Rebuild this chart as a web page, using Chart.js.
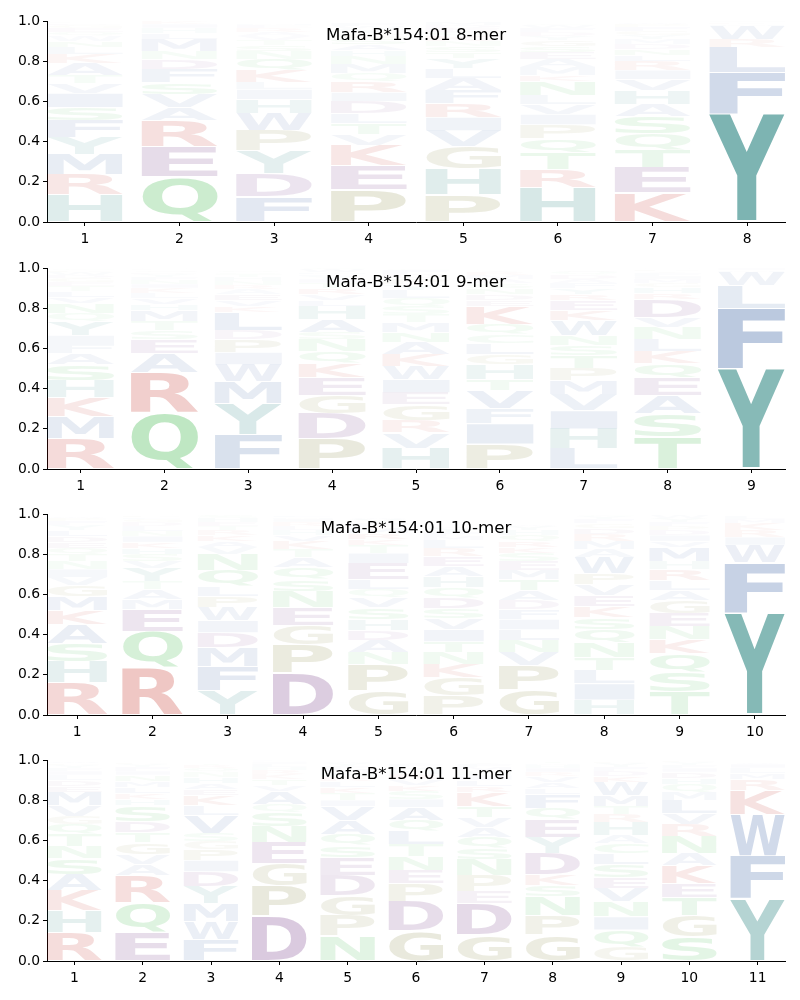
<!DOCTYPE html>
<html><head><meta charset="utf-8">
<script src="https://cdn.jsdelivr.net/npm/chart.js@4.4.1/dist/chart.umd.min.js"></script>
<style>
html,body{margin:0;padding:0;background:#fff;width:800px;height:1000px;overflow:hidden;}
.panel{position:absolute;left:0;width:800px;height:246px;}
</style></head><body>
<div class="panel" style="top:0px"><canvas id="c0" width="800" height="246"></canvas></div>
<div class="panel" style="top:247px"><canvas id="c1" width="800" height="246"></canvas></div>
<div class="panel" style="top:493px"><canvas id="c2" width="800" height="246"></canvas></div>
<div class="panel" style="top:739px"><canvas id="c3" width="800" height="246"></canvas></div>
<script>
// ---- data: each column lists letters bottom -> top with frequency in percent ----
const titles = ["Mafa-B*154:01 8-mer", "Mafa-B*154:01 9-mer", "Mafa-B*154:01 10-mer", "Mafa-B*154:01 11-mer"];
const yTickLabels = ["0.0", "0.2", "0.4", "0.6", "0.8", "1.0"];

const logo8 = [
  "H13.5 R10 M10 Y8.5 F8.5 S6.5 I7 V5 T4 A6 K4.5 L3.5 N3 W2.5 Q2 E2 G1.5 D1 P0.5 C0.5",
  "Q22.5 E15 R13 A6.5 V6.5 S6 F6.5 D5 N4 M6 L3 H2.5 I2 K1.5",
  "F12.5 D11.5 Y11.5 P10 W8.5 H7 I5 L3.5 K6 Q5.5 N4 S3 T2.5 V2 A2 R2 E1.5 M1 G0.5 C0.5",
  "P16 E12 K10 V5.5 T5.5 L5 D6 I4.5 R5.5 Q4 M4.5 N4 H3 A3 S3 G2.5 Y2 W1.5 F1.5 C0.5",
  "P13.5 H13 G11 V8 I6.5 R7 F6.5 A6 L5 Y5 T3 S3 N2.5 K2.5 Q2 E2 D1.5 M1.5 W0.5",
  "H17 R9 T8.5 Q7 P7 I5 V5 L4.5 N7 K3 M4 A4 E3.5 S3 G3 Y2 D2 F2 W1.5 C1",
  "K14.5 E12.5 T9 Q8 S8.5 A6 H7 V5.5 I4.5 R4.5 L3 N3 D2.5 M2.5 Y2 G2 F2 P1.5 W1 C0.5",
  "Y54 F20.5 L12.5 R4 W6.5 M1 K0.8 I0.7"
];
const logo9 = [
  "R15 M11 K9.5 H8.5 S8 A5.5 F4.5 I4.5 Y7 Q4 N5 V3 L3 T2.5 E2 G2 D1.5 W1.5 P1 C1",
  "Q28 R20 A9.5 E7 S4.5 T4.5 M5.5 H3 V3 L2.5 K2.5 I2 N2 F1.5 Y1.5 D1 G1 P0.5 W0.5",
  "F17 Y15.5 M11 W8.5 I6 P6.5 D4.5 L9 K3 V3 E3 A2.5 R2 N2 H2 T1.5 S1 Q1 G0.5",
  "P15 D12.5 G9 E9 K7 Q6 N6 S3.5 A6.5 H6.5 L3 V3 R3 T2.5 I2 Y1.5 F1 M1 W1.5 C1",
  "H10.5 V7.5 R6 G8 E6 I6.5 W6.5 K6 A6 N5 M5 T4 S4 Q4 L4 Y3 P3 D2 F2 C1",
  "P12.5 I10 F7.5 V9 T5.5 H7.5 G5 L5.5 C4.5 Q5 K9 E3 D3 N3 S2.5 A2 M2 R1.5 Y1 W0.5",
  "L10 H10 I9 V8 M7 P6 T6.5 S5 N5 W7.5 K5 E5 R3 Y3 F2.5 A2 D2 Q1.5 G1 C0.5",
  "T16 S11.5 A9 E9 Q7 K6 L6 N6 V5 D9 R3 H3 G2 M2 I1.5 F1.5 Y1 P1 W0.5",
  "Y50 F30 L11.5 W6.5 M1 I1"
];
const logo10 = [
  "R16 H10.5 S9 A9.5 K7 M7 G5.5 V4 I4 N4 T3.5 Q3 E3 D3 L3 Y2.5 F2 P1.5 W1 C0.5",
  "R23.5 Q18 E11 M5 A5 T4 Y6.5 V3.5 S3.5 H3 K3 I3 N2.5 L2.5 D2 G1.5 F1 P1 W0.5",
  "Y12 F12 M9.5 D7.5 I6 W6.5 P5.5 L5 Q8 N8 V3.5 A3 K3 R2.5 T2 E2 H2 S1.5 G0.5",
  "D21 P14 G9.5 E9 N8 S6 Q6 A5 T4 K4 V3 H2.5 L2 R2 I1.5 M1 F1 Y0.5",
  "G12 P13 N6 A6 D5 H5.5 S6 V5 Q4 L5 E8 I5 T4 K3 R3 M3 F2 Y2 W1 C0.5",
  "P9.5 G9 K6.5 N6 T5.5 I6 V5.5 S5 D5.5 Q5 H5.5 A5 E5 R4 L4 M2 F2 Y2 W1 C0.5",
  "G12.5 P12 V6.5 N6 L5.5 I5 F5 D4.5 A5 T5.5 M4.5 E4.5 S4 K3 R3 Q3 H2.5 Y2 W1",
  "H7.5 I8 L6.5 T6.5 N7.5 Q6.5 S6 K5.5 E5.5 V5.5 P5.5 W8 A4 M4 R3.5 D3 G2.5 F2 Y1.5 C1",
  "T11.5 S9.5 Q9.5 K7 N6.5 E6.5 G6.5 A5 L5 R5.5 H4 M7 V3 I3 D2.5 P2 F2 Y2 W1.5",
  "Y51 F25 W8.5 I4 R3.5 K3.5 M2 L1.5"
];
const logo11 = [
  "R14 H11 K10 A8 S8 N6 T6 Q5 G4 V5.5 M6.5 E3 D3 L2.5 I2 F1.5 Y1.5 P1 W1 C0.5",
  "E14.5 Q14.5 R13.5 A5.5 V5 G6 T5 D5.5 S8 H3 K3 L3 M3 N3 I2 F2 Y1.5 P1 W0.5",
  "F10.5 W9 M9 Y8.5 D7.5 I5.5 P5.5 G4 S4 V9 L5 K5 E3 A3 H3 N2.5 Q2 R1.5 T1 C0.5",
  "D22.5 P15 G11 E10.5 N8 S7 Q4 A6.5 V3 T3 K2.5 R2 H1.5 L1.5 I1 M0.5 F0.5",
  "N12.5 P10 G10 D10 E9 S6 Q5.5 A7 V7 I3 T3.5 K3 L3 R2 H2 M2 F1.5 Y1.5 W1",
  "G15 D14.5 P9 E6.5 N7 T6 L6.5 Q5.5 A6.5 I4 S4 K3 V3 R2.5 H2 M1.5 F1.5 Y1 W0.5",
  "G13 D15.5 E6 P8 N8 S5.5 Q5.5 A5 V5 T5.5 K7 R3 L3 I2.5 H2 M2 F1.5 Y1 W0.5",
  "G13 P9.5 N9.5 S5.5 K5.5 D10.5 Y8 E9 Q5.5 F7 L3 A3 V3 R2 I2 H1.5 M1 T1 W0.5",
  "G7 Q8.5 I6.5 N7.5 V6.5 E5.5 S6.5 L5.5 C5 A4 H6.5 R4 T4 M5.5 W6.5 K3 D2.5 F2 Y2 P1",
  "S12 G10.5 T9 E7 K9 A6 N8.5 R6 V5.5 L6.5 M4 Q4 H3 D3 I2 F1.5 Y1.5 P1",
  "Y31 F21.5 W20.5 K12 R5.5 M3 L2.5 I2 A1"
];
const logos = [logo8, logo9, logo10, logo11];

// ---- styling ----
const groupColor = {
  red: [185, 15, 5], purple: [90, 20, 110], green: [25, 170, 40],
  olive: [110, 110, 25], teal: [15, 117, 112], blue: [30, 75, 150]
};
const letterGroup = {
  R: 'red', K: 'red', D: 'purple', E: 'purple',
  Q: 'green', N: 'green', S: 'green', T: 'green', C: 'green',
  G: 'olive', P: 'olive', H: 'teal', Y: 'teal',
  A: 'blue', V: 'blue', L: 'blue', I: 'blue', M: 'blue', F: 'blue', W: 'blue'
};
const FONT = '"DejaVu Sans", sans-serif';

function parseColumn(str) {
  return str.trim().split(/\s+/).map(t => ({ aa: t[0], v: parseFloat(t.slice(1)) / 100 }));
}

function drawGlyph(ctx, ch, color, l, t, w, h) {
  if (w <= 0 || h <= 0.2) return;
  ctx.save();
  ctx.font = 'bold 100px ' + FONT;
  ctx.textBaseline = 'alphabetic';
  ctx.textAlign = 'left';
  const m = ctx.measureText(ch);
  const bl = m.actualBoundingBoxLeft, br = m.actualBoundingBoxRight;
  const asc = m.actualBoundingBoxAscent, desc = m.actualBoundingBoxDescent;
  const gw = bl + br, gh = asc + desc;
  ctx.translate(l, t);
  ctx.scale(w / gw, h / gh);
  ctx.fillStyle = color;
  ctx.fillText(ch, bl, asc);
  ctx.restore();
}

const logoPlugin = {
  id: 'logoGlyphs',
  afterDatasetsDraw(chart) {
    const ctx = chart.ctx;
    const area = chart.chartArea;
    ctx.save();
    ctx.beginPath();
    ctx.rect(area.left, area.top - 2, area.right - area.left, area.bottom - area.top + 2);
    ctx.clip();
    chart.data.datasets.forEach((ds, k) => {
      const meta = chart.getDatasetMeta(k);
      meta.data.forEach((bar, i) => {
        const letter = ds.letters[i];
        const f = ds.data[i].y;
        if (!letter || !f) return;
        const p = bar.getProps(['x', 'y', 'base', 'width'], true);
        const top = Math.min(p.y, p.base), bottom = Math.max(p.y, p.base);
        const h = bottom - top;
        const pad = 0.012 * h + 0.2;
        const c = groupColor[letterGroup[letter]];
        const color = 'rgba(' + c[0] + ',' + c[1] + ',' + c[2] + ',' + f + ')';
        drawGlyph(ctx, letter, color, p.x - p.width / 2, top + pad, p.width, h - 2 * pad);
      });
    });
    ctx.restore();
  },
  afterDraw(chart) {
    const ctx = chart.ctx;
    const a = chart.chartArea;
    ctx.save();
    ctx.font = '16.7px ' + FONT;
    ctx.fillStyle = '#000';
    ctx.textAlign = 'center';
    ctx.textBaseline = 'middle';
    ctx.fillText(chart.options.plugins.logoTitle.text, (a.left + a.right) / 2, a.top + 15);
    ctx.restore();
  }
};

logos.forEach((logo, idx) => {
  const cols = logo.map(parseColumn);
  const n = cols.length;
  const levels = Math.max(...cols.map(c => c.length));
  const datasets = [];
  for (let k = 0; k < levels; k++) {
    datasets.push({
      stack: 'logo',
      data: cols.map((c, i) => ({ x: i + 1, y: c[k] ? c[k].v : 0 })),
      letters: cols.map(c => (c[k] ? c[k].aa : '')),
      backgroundColor: 'rgba(0,0,0,0)',
      borderWidth: 0,
      categoryPercentage: 1.0,
      barPercentage: 0.8
    });
  }
  new Chart(document.getElementById('c' + idx), {
    type: 'bar',
    data: { datasets },
    plugins: [logoPlugin],
    options: {
      responsive: false,
      animation: false,
      devicePixelRatio: 1,
      layout: { padding: { top: 21, right: 15, left: 0, bottom: 0 } },
      plugins: {
        legend: { display: false },
        tooltip: { enabled: false },
        title: { display: false },
        logoTitle: { text: titles[idx] }
      },
      scales: {
        x: {
          type: 'linear',
          min: 0.6,
          max: n + 0.4,
          offset: false,
          grid: { display: true, drawOnChartArea: false, drawTicks: true, tickLength: 4, color: '#000', offset: false },
          border: { display: true, color: '#000', width: 1 },
          ticks: {
            stepSize: 1, includeBounds: false, autoSkip: false, maxRotation: 0, padding: 5,
            color: '#000', font: { family: FONT, size: 13.9 },
            callback: v => (Number.isInteger(v) ? String(v) : '')
          },
          afterFit: s => { s.height = 24; }
        },
        y: {
          min: 0,
          max: 1,
          stacked: true,
          grid: { display: true, drawOnChartArea: false, drawTicks: true, tickLength: 4, color: '#000' },
          border: { display: true, color: '#000', width: 1 },
          ticks: {
            stepSize: 0.2, padding: 3, color: '#000', font: { family: FONT, size: 13.9 },
            callback: (v, i) => yTickLabels[i]
          },
          afterFit: s => { s.width = 47; }
        }
      }
    }
  });
});
</script>
</body></html>
